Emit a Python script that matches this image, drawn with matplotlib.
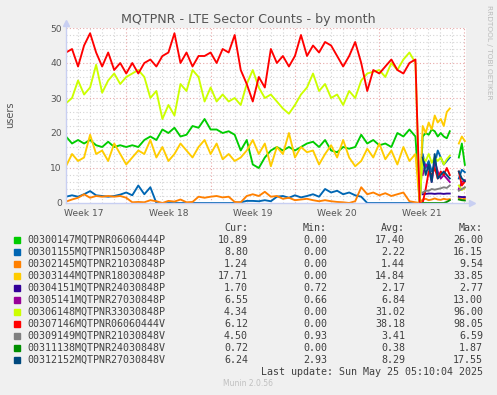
import numpy as np
import matplotlib
matplotlib.use('Agg')
import matplotlib.pyplot as plt

# munin month graph: 11 LTE sector counters

W, H = 497, 395

# sample times in days from the left edge of the graph
t_pre = np.arange(0, 29.01, 0.5)          # before the sector change
t_switch = [29.35]                        # everything drops here
t_post = np.arange(29.6, 31.86, 0.25)     # after the change
t_gap = [32.2]                            # no data
t_end = [32.6, 32.85, 33.1]               # last few samples
t = np.concatenate([t_pre, t_switch, t_post, t_gap, t_end])

nan = np.nan
pre_nan = [nan] * len(t_pre)

green = [19, 17, 18, 17, 18, 16.5, 16, 17.5, 16, 16.5, 16, 16.5, 16, 18, 19, 18, 21, 20, 21.5, 19,
         19.5, 22, 21.5, 24, 21, 21, 20, 20.5, 19.5, 15, 18, 11, 10, 13, 15, 16, 15, 16, 15, 16,
         17, 17.5, 16, 18, 15, 14.5, 16, 15.5, 16, 19.5, 17, 18, 16.5, 17, 16, 20, 19, 21, 19] \
    + [0] + [19, 20, 19.5, 21, 20.5, 19, 20, 19, 18.5, 20.5] + [nan] + [13, 17, 10.89]
blue = [1.8, 2.2, 1.8, 2.5, 3.4, 2.2, 2, 1.8, 2, 2.4, 3, 2.2, 5, 2.5, 4.5, 0, 0, 0, 0, 0,
        0, 0, 0, 0, 0, 0, 0, 0, 0, 0.2, 0.6, 0.6, 0.5, 0.8, 0.5, 1.8, 2, 1.5, 2.2, 1.6,
        2, 2.5, 1.8, 4, 3, 3.5, 2.5, 3, 2.2, 1.8, 0, 0, 0, 0, 0, 0, 0, 0, 0] \
    + [0] + [14, 10, 12, 9, 11, 15, 13, 11, 12, 13] + [nan] + [7, 9.5, 8.8]
orange = [0.4, 1, 1.5, 2.5, 1.5, 2, 1.8, 2, 1.8, 2, 1.5, 0.2, 0.3, 0.2, 0.8, 0.5, 0, 0.6, 0.4, 1,
          0.2, 0.3, 1.8, 1.5, 1.8, 2, 1.6, 1.8, 0.3, 0.2, 2, 2.5, 2, 3.2, 1.8, 2, 1.2, 1.5, 0.8, 1,
          1.2, 0.8, 0.5, 0.8, 0.5, 0.3, 0.2, 0, 0.5, 4.5, 2.5, 3, 2.2, 2.8, 2, 2.5, 3, 0.5, 0.2] \
    + [0] + [1, 1.2, 0.8, 1, 1.3, 1, 0.9, 1.2, 1, 1.1] + [nan] + [1.5, 1, 1.24]
yellow = [10.5, 14, 12, 13, 19.5, 14, 15, 12, 17, 14, 11, 13, 15, 14, 18, 13, 16, 12, 14, 17,
          15, 13, 16, 18, 14, 17, 12.5, 14, 12, 13, 15, 18, 14, 17, 10.5, 16, 14, 20, 13, 16,
          14.5, 15, 11, 14, 16.5, 13, 18, 13, 10.5, 12, 15.5, 13, 17, 12.5, 15, 11, 16, 12, 14] \
    + [0] + [22, 20, 23, 21, 25, 23, 24, 22, 26, 27] + [nan] + [17, 19, 17.71]
darkblue = pre_nan + [nan] + [2.5, 2.6, 2.7, 2.7, 2.6, 2.7, 2.7, 2.6, 2.7, 2.7] + [nan] + [1.8, 1.7, 1.7]
purple = pre_nan + [nan] + [8, 11, 10, 6, 12, 9, 7, 8, 7, 6] + [nan] + [4, 6, 6.55]
lime = [28.5, 30, 35, 31, 33, 39.5, 31.5, 35, 37, 34, 36, 37, 38, 36, 30, 32, 24, 28, 25, 34,
        32, 38, 36, 29, 33, 29, 31, 29, 30, 28, 34, 38, 33, 30, 31, 29, 27, 25.5, 28, 31,
        33, 37, 32, 34, 30, 31, 28, 32, 30, 35, 37, 37.5, 38, 36, 40, 38, 41, 43, 40] \
    + [0] + [13, 12, 14, 11.5, 13, 12, 13, 11, 12.5, 13.5] + [nan] + [5, 3.7, 4.34]
red = [43, 44, 39, 45, 48.5, 43, 39, 43, 38, 40, 37, 40, 37, 40, 41, 39, 42, 43, 48.5, 40,
       43, 39, 42, 42, 43, 40, 44, 43, 48, 38, 34, 29, 36, 33, 44, 40, 42, 39, 42, 48,
       42, 45, 43, 46, 45, 42, 39, 42, 46, 40, 32, 38, 37, 39, 41, 38, 37, 40, 41] \
    + [0] + [0, 4, 9, 8, 10, 7, 9, 8, 10, 8] + [nan] + [9, 5, 6.12]
gray = pre_nan + [nan] + [3, 3.5, 3.5, 4, 3.8, 4, 4.2, 4.5, 4.3, 5] + [nan] + [3.5, 4, 4.5]
darkgreen = pre_nan + [nan] + [0, 0, 0, 0, 0, 0, 0, 0, 0.3, 0.8] + [nan] + [1, 0.8, 0.72]
navy = pre_nan + [nan] + [13, 8, 11, 6, 14, 7, 8, 9, 8, 7] + [nan] + [9, 7, 6.24]

series = [green, blue, orange, yellow, darkblue, purple, lime, red, gray, darkgreen, navy]
colors = ['#00CC00', '#0066B3', '#FF8000', '#FFCC00', '#330099', '#990099',
          '#CCFF00', '#FF0000', '#808080', '#008F00', '#00487D']
names = ['00300147MQTPNR06060444P', '00301155MQTPNR15030848P', '00302145MQTPNR21030848P',
         '00303144MQTPNR18030848P', '00304151MQTPNR24030848P', '00305141MQTPNR27030848P',
         '00306148MQTPNR33030848P', '00307146MQTPNR06060444V', '00309149MQTPNR21030848V',
         '00311138MQTPNR24030848V', '00312152MQTPNR27030848V']
cur = ['10.89', '8.80', '1.24', '17.71', '1.70', '6.55', '4.34', '6.12', '4.50', '0.72', '6.24']
mins = ['0.00', '0.00', '0.00', '0.00', '0.72', '0.66', '0.00', '0.00', '0.93', '0.00', '2.93']
avgs = ['17.40', '2.22', '1.44', '14.84', '2.17', '6.84', '31.02', '38.18', '3.41', '0.38', '8.29']
maxs = ['26.00', '16.15', '9.54', '33.85', '2.77', '13.00', '96.00', '98.05', '6.59', '1.87', '17.55']

week_labels = ['Week 17', 'Week 18', 'Week 19', 'Week 20', 'Week 21']
week_starts = [5, 12, 19, 26, 33]

fig = plt.figure(figsize=(W / 100, H / 100), dpi=100, facecolor='#F0F0F0')
ax = fig.add_axes([66 / W, 1 - 203 / H, 400 / W, 175 / H])
ax.set_facecolor('white')
ax.set_xlim(0, 400 / 12.05)
ax.set_ylim(0, 50)

# grid: gray every day / 2 users, red every week / 10 users
for d in range(0, 34):
    if d in week_starts:
        ax.axvline(d, color='#E8A8A8', lw=0.8, ls=(0, (1, 2)), zorder=1)
    elif d > 0:
        ax.axvline(d, color='#D4D4D4', lw=0.8, ls=(0, (1, 2)), zorder=0)
for v in range(2, 51, 2):
    if v % 10 == 0:
        ax.axhline(v, color='#E8A8A8', lw=0.8, ls=(0, (1, 2)), zorder=1)
    else:
        ax.axhline(v, color='#D4D4D4', lw=0.8, ls=(0, (1, 2)), zorder=0)

for i, (vals, c) in enumerate(zip(series, colors)):
    ax.plot(t, vals, color=c, lw=1.35, zorder=3 + i, solid_joinstyle='round')

for s in ax.spines.values():
    s.set_visible(False)
axis_col = '#C8CFF2'
ax.plot([0, 0], [0, 1.03], color=axis_col, lw=1, transform=ax.transAxes, clip_on=False, zorder=20)
ax.plot([0, 1.015], [0, 0], color=axis_col, lw=1, transform=ax.transAxes, clip_on=False, zorder=20)
ax.plot([0], [1.03], marker='^', ms=4, color=axis_col, transform=ax.transAxes, clip_on=False, zorder=20)
ax.plot([1.015], [0], marker='>', ms=4, color=axis_col, transform=ax.transAxes, clip_on=False, zorder=20)

ax.set_yticks([0, 10, 20, 30, 40, 50])
ax.set_xticks([w - 3.5 for w in week_starts])
ax.set_xticklabels(week_labels)
ax.tick_params(length=0, labelsize=6.6, colors='#555555')
ax.tick_params(axis='y', pad=3)
ax.tick_params(axis='x', pad=4.5)

fig.text(248 / W, 1 - 19 / H, 'MQTPNR - LTE Sector Counts - by month', ha='center', va='center',
         fontsize=9.1, color='#555555')
fig.text(10 / W, 1 - 115 / H, 'users', rotation=90, ha='center', va='center', fontsize=7, color='#555555')
fig.text(489 / W, 1 - 5 / H, 'RRDTOOL / TOBI OETIKER', rotation=-90, ha='center', va='top',
         fontsize=5.3, color='#BBBBBB')

# legend table
mono = dict(family='DejaVu Sans Mono', fontsize=7.2, color='#404040', va='center')
col_x = [248, 327, 405, 483]
for x, head in zip(col_x, ['Cur:', 'Min:', 'Avg:', 'Max:']):
    fig.text(x / W, 1 - 228 / H, head, ha='right', **mono)
for k in range(len(names)):
    y = 240 + 12 * k
    fig.patches.append(plt.Rectangle((14 / W, 1 - (y + 3) / H), 6 / W, 6 / H,
                                     transform=fig.transFigure, color=colors[k]))
    fig.text(27 / W, 1 - y / H, names[k], ha='left', **mono)
    for x, val in zip(col_x, [cur[k], mins[k], avgs[k], maxs[k]]):
        fig.text(x / W, 1 - y / H, val, ha='right', **mono)
fig.text(483 / W, 1 - 372 / H, 'Last update: Sun May 25 05:10:04 2025', ha='right', **mono)
fig.text(248 / W, 1 - 384 / H, 'Munin 2.0.56', ha='center', va='center', fontsize=5.5, color='#C0C0C0')

fig.savefig('out.png', dpi=100, facecolor=fig.get_facecolor())
